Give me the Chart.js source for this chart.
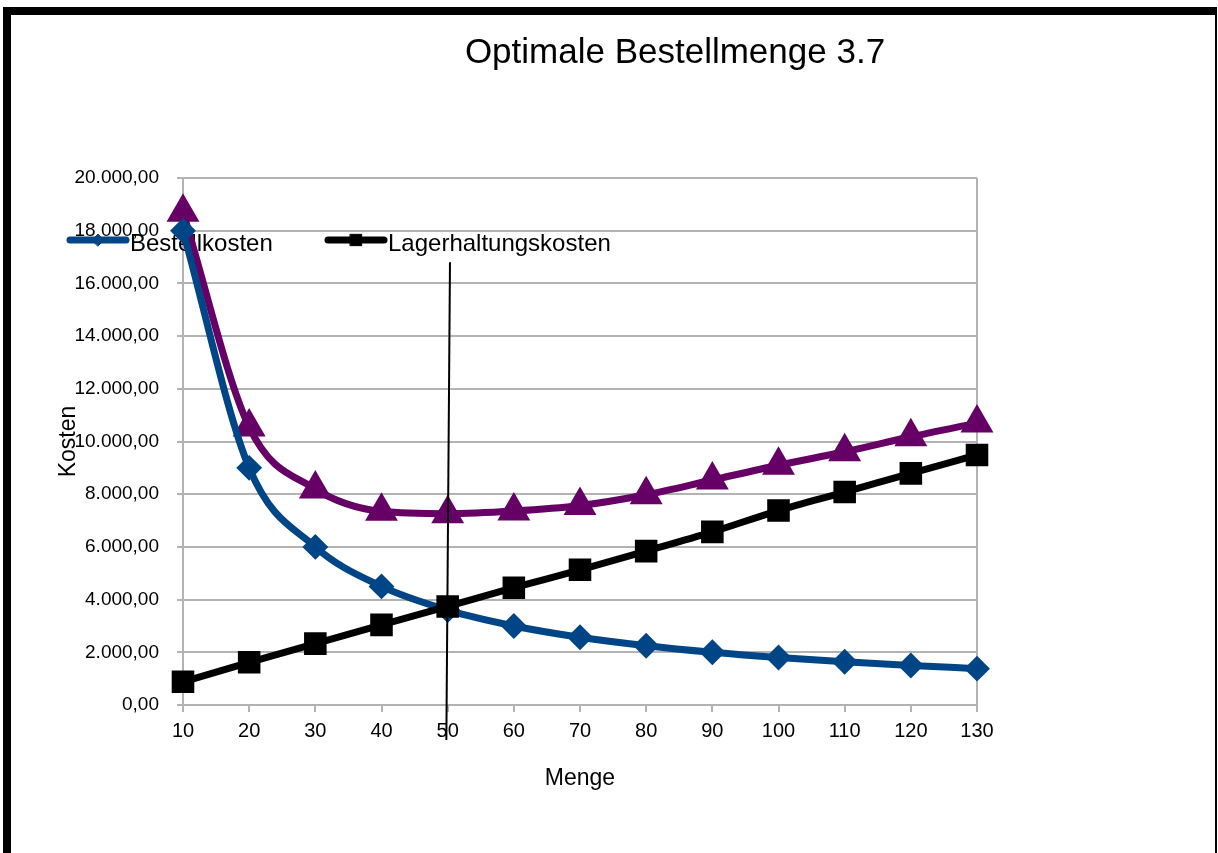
<!DOCTYPE html>
<html>
<head>
<meta charset="utf-8">
<script src="https://cdn.jsdelivr.net/npm/chart.js@4/dist/chart.umd.min.js"></script>
<style>
  html, body { margin: 0; padding: 0; background: #fff; overflow: hidden; }
  #frame {
    position: absolute; left: 3px; top: 7px; width: 1204px; height: 900px;
    border-left: 8px solid #000; border-top: 8px solid #000; border-right: 2px solid #000;
  }
  #wrap { position: absolute; left: 0; top: 0; width: 1218px; height: 853px; }
</style>
</head>
<body>
<div id="frame"></div>
<div id="wrap"><canvas id="chart" width="1218" height="853"></canvas></div>
<script>
const mengen = ['10', '20', '30', '40', '50', '60', '70', '80', '90', '100', '110', '120', '130']
const bestellkosten = [18000, 9000, 6000, 4500, 3600, 3000, 2570, 2250, 2000, 1800, 1640, 1500, 1380]
const lagerhaltungskosten = [880, 1620, 2330, 3040, 3740, 4450, 5130, 5840, 6570, 7380, 8080, 8790, 9490]
const gesamtkosten = [18700, 10550, 8200, 7350, 7260, 7360, 7570, 7980, 8540, 9100, 9610, 10180, 10700]
// marker at the optimum: category index (fractional) and cost range it spans
const optimumLine = { xTop: 4.035, xBottom: 3.98, yTop: 16800, yBottom: -1330 }

const FONT = "'Liberation Sans', Arial, sans-serif"
const GRID = '#b3b3b3'

const fmt = (v) => {
  const [i, d] = Number(v).toFixed(2).split('.')
  return i.replace(/\B(?=(\d{3})+(?!\d))/g, '.') + ',' + d
}

const extras = {
  id: 'extras',
  beforeDatasetsDraw(chart) {
    const { ctx, chartArea } = chart
    // plot area frame (right edge)
    ctx.save()
    ctx.strokeStyle = GRID
    ctx.lineWidth = 2
    ctx.beginPath()
    ctx.moveTo(chartArea.right, chartArea.top)
    ctx.lineTo(chartArea.right, chartArea.bottom)
    ctx.stroke()

    // title
    ctx.fillStyle = '#000'
    ctx.font = '35px ' + FONT
    ctx.textAlign = 'center'
    ctx.textBaseline = 'alphabetic'
    ctx.fillText('Optimale Bestellmenge 3.7', chartArea.left + 492, 63)

    // legend (only the first two series)
    const items = [
      { ds: chart.data.datasets[0], x: chartArea.left - 113, radius: 6 },
      { ds: chart.data.datasets[1], x: chartArea.left + 145, radius: 8 }
    ]
    ctx.font = '24px ' + FONT
    ctx.textAlign = 'left'
    items.forEach((it) => {
      const y = 240
      ctx.strokeStyle = it.ds.borderColor
      ctx.lineWidth = 7
      ctx.lineCap = 'round'
      ctx.beginPath()
      ctx.moveTo(it.x, y)
      ctx.lineTo(it.x + 56, y)
      ctx.stroke()
      ctx.fillStyle = it.ds.borderColor
      ctx.strokeStyle = it.ds.borderColor
      ctx.lineWidth = 1
      Chart.helpers.drawPoint(ctx, { pointStyle: it.ds.pointStyle, radius: it.radius, rotation: 0, borderWidth: 1 }, it.x + 28, y)
      ctx.fillStyle = '#000'
      ctx.fillText(it.ds.label, it.x + 60, 251)
    })
    ctx.restore()
  },
  afterDatasetsDraw(chart) {
    const { ctx } = chart
    const xs = chart.scales.x, ys = chart.scales.y
    ctx.save()
    ctx.strokeStyle = '#000'
    ctx.lineWidth = 2
    ctx.beginPath()
    ctx.moveTo(xs.getPixelForValue(optimumLine.xTop), ys.getPixelForValue(optimumLine.yTop))
    ctx.lineTo(xs.getPixelForValue(optimumLine.xBottom), ys.getPixelForValue(optimumLine.yBottom))
    ctx.stroke()
    ctx.restore()
  }
}

document.addEventListener('DOMContentLoaded', () => {
  const ctx = document.getElementById('chart')
  new Chart(ctx, {
    type: 'line',
    data: {
      labels: mengen,
      datasets: [
        {
          label: 'Bestellkosten',
          data: bestellkosten,
          borderColor: '#004586',
          backgroundColor: '#004586',
          borderWidth: 7,
          pointStyle: 'rectRot',
          pointRadius: 8,
          cubicInterpolationMode: 'monotone',
          order: 2
        },
        {
          label: 'Lagerhaltungskosten',
          data: lagerhaltungskosten,
          borderColor: '#000000',
          backgroundColor: '#000000',
          borderWidth: 7,
          pointStyle: 'rect',
          pointRadius: 11,
          cubicInterpolationMode: 'monotone',
          order: 1
        },
        {
          label: 'Gesamtkosten',
          data: gesamtkosten,
          borderColor: '#660066',
          backgroundColor: '#660066',
          borderWidth: 7,
          pointStyle: 'triangle',
          pointRadius: 12,
          cubicInterpolationMode: 'monotone',
          order: 3
        }
      ]
    },
    options: {
      responsive: false,
      animation: false,
      layout: { padding: { left: 40, right: 241, top: 178, bottom: 48 } },
      plugins: {
        legend: { display: false },
        title: { display: false },
        tooltip: { enabled: false }
      },
      scales: {
        x: {
          type: 'category',
          offset: false,
          afterFit: (scale) => { scale.height = 100 },
          grid: { drawOnChartArea: false, drawTicks: true, tickLength: 7, color: GRID, lineWidth: 2 },
          border: { color: GRID, width: 2 },
          ticks: { color: '#000', font: { family: FONT, size: 20 }, padding: 7, maxRotation: 0, autoSkip: false },
          title: { display: true, text: 'Menge', color: '#000', font: { family: FONT, size: 23 }, padding: { top: 0, bottom: 13 } }
        },
        y: {
          min: 0,
          max: 20000,
          afterFit: (scale) => { scale.width = 143 },
          grid: { color: GRID, lineWidth: 2, tickLength: 6 },
          border: { color: GRID, width: 2 },
          ticks: { stepSize: 2000, color: '#000', font: { family: FONT, size: 19 }, padding: 18, callback: (v) => fmt(v) },
          title: { display: true, text: 'Kosten', color: '#000', font: { family: FONT, size: 23 }, padding: { top: 15, bottom: 0 } }
        }
      }
    },
    plugins: [extras]
  })
})
</script>
</body>
</html>
